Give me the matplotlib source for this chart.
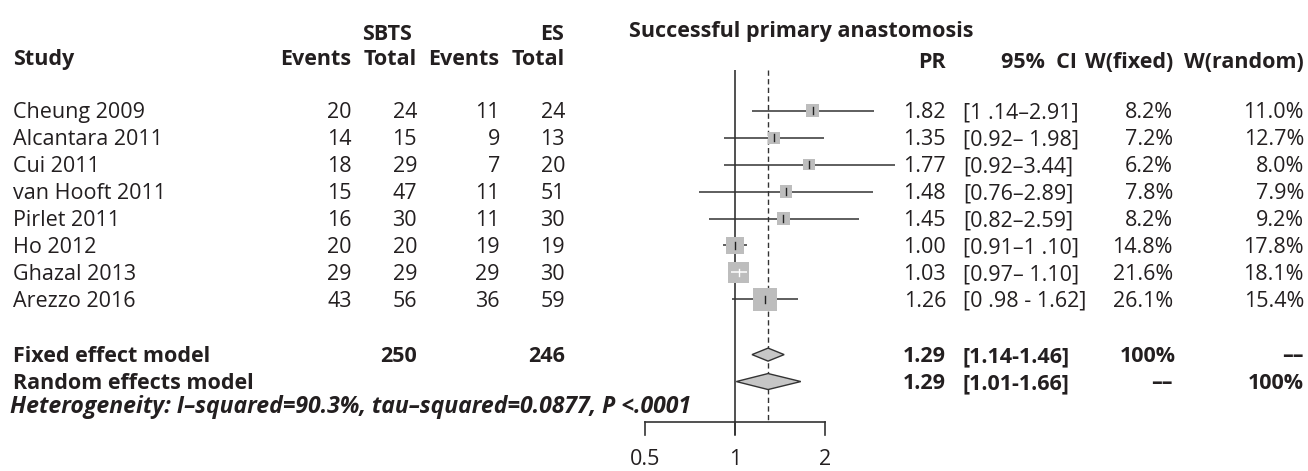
import numpy as np
import matplotlib
matplotlib.use("Agg")
import matplotlib.pyplot as plt
from matplotlib.patches import Polygon

# ---------------- data ----------------
studies = ["Cheung 2009", "Alcantara 2011", "Cui 2011", "van Hooft 2011",
           "Pirlet 2011", "Ho 2012", "Ghazal 2013", "Arezzo 2016"]
sbts_events = [20, 14, 18, 15, 16, 20, 29, 43]
sbts_total = [24, 15, 29, 47, 30, 20, 29, 56]
es_events = [11, 9, 7, 11, 11, 19, 29, 36]
es_total = [24, 13, 20, 51, 30, 19, 30, 59]
pr = [1.82, 1.35, 1.77, 1.48, 1.45, 1.00, 1.03, 1.26]
ci_low = [1.14, 0.92, 0.92, 0.76, 0.82, 0.91, 0.97, 0.98]
ci_high = [2.91, 1.98, 3.44, 2.89, 2.59, 1.10, 1.10, 1.62]
ci_labels = ["[1 .14–2.91]", "[0.92– 1.98]", "[0.92–3.44]", "[0.76–2.89]",
             "[0.82–2.59]", "[0.91–1 .10]", "[0.97– 1.10]", "[0 .98 - 1.62]"]
w_fixed = [8.2, 7.2, 6.2, 7.8, 8.2, 14.8, 21.6, 26.1]
w_random = [11.0, 12.7, 8.0, 7.9, 9.2, 17.8, 18.1, 15.4]

sbts_sum, es_sum = 250, 246
fixed_est, fixed_low, fixed_high = 1.29, 1.14, 1.46
random_est, random_low, random_high = 1.29, 1.01, 1.66
fixed_labels = ["1.29", "[1.14-1.46]", "100%", "––"]
random_labels = ["1.29", "[1.01-1.66]", "––", "100%"]
heterogeneity = "Heterogeneity: I–squared=90.3%, tau–squared=0.0877, P <.0001"
x_ticks = [0.5, 1, 2]
x_tick_labels = ["0.5", "1", "2"]
title = "Successful primary anastomosis"

# ---------------- style ----------------
plt.rcParams["font.family"] = ["Open Sans", "DejaVu Sans"]
FS = 15.5
TXT = "#231f20"
LINE = "#333333"
BOX = "#bdbdbd"
DIA = "#c6c6c6"

W, H = 1308, 471
fig = plt.figure(figsize=(W / 100, H / 100), dpi=100)
tax = fig.add_axes([0, 0, 1, 1])
tax.set_xlim(0, W)
tax.set_ylim(H, 0)
tax.axis("off")

# forest axes: log scale, 0.5 .. 2 spanning pixel 645 .. 825
fx0, fx1 = 645, 825
fax = fig.add_axes([fx0 / W, 0, (fx1 - fx0) / W, 1])
fax.set_xscale("log")
fax.set_xlim(0.5, 2)
fax.set_ylim(H, 0)
fax.axis("off")
fax.patch.set_alpha(0)

ROW0, DY = 110.7, 26.95
def row_y(i):
    return ROW0 + DY * i

CAP = 7.6  # half cap height in px for baseline placement

def txt(x, yc, s, ha="left", weight="normal", style="normal", size=FS):
    tax.text(x, yc + CAP, s, ha=ha, va="baseline", fontsize=size,
             fontweight=weight, fontstyle=style, color=TXT)

# ---------------- headers ----------------
txt(387, 32, "SBTS", ha="center", weight="bold")
txt(564, 32, "ES", ha="right", weight="bold")
txt(629, 29, title, weight="bold")
txt(13, 57, "Study", weight="bold")
txt(351, 57, "Events", ha="right", weight="bold")
txt(417, 57, "Total", ha="right", weight="bold")
txt(499, 57, "Events", ha="right", weight="bold")
txt(565, 57, "Total", ha="right", weight="bold")
txt(946, 60, "PR", ha="right", weight="bold")
txt(1077, 60, "95%  CI", ha="right", weight="bold")
txt(1173, 60, "W(fixed)", ha="right", weight="bold")
txt(1304, 60, "W(random)", ha="right", weight="bold")

# ---------------- study rows ----------------
col_x = dict(ev1=352, tot1=417, ev2=500, tot2=565, pr=946, ci=963, wf=1173, wr=1304)
for i, name in enumerate(studies):
    y = row_y(i)
    txt(13, y, name)
    txt(col_x["ev1"], y, str(sbts_events[i]), ha="right")
    txt(col_x["tot1"], y, str(sbts_total[i]), ha="right")
    txt(col_x["ev2"], y, str(es_events[i]), ha="right")
    txt(col_x["tot2"], y, str(es_total[i]), ha="right")
    txt(col_x["pr"], y, f"{pr[i]:.2f}", ha="right")
    txt(col_x["ci"], y, ci_labels[i], ha="left")
    txt(col_x["wf"], y, f"{w_fixed[i]:.1f}%", ha="right")
    txt(col_x["wr"], y, f"{w_random[i]:.1f}%", ha="right")

# summary rows
yf = row_y(9.05)
yr = row_y(10.05)
yh = row_y(10.95)
txt(13, yf, "Fixed effect model", weight="bold")
txt(col_x["tot1"], yf, str(sbts_sum), ha="right", weight="bold")
txt(col_x["tot2"], yf, str(es_sum), ha="right", weight="bold")
txt(col_x["pr"], yf, fixed_labels[0], ha="right", weight="bold")
txt(col_x["ci"] - 1, yf, fixed_labels[1], ha="left", weight="bold")
txt(col_x["wf"] + 3, yf, fixed_labels[2], ha="right", weight="bold")
txt(col_x["wr"], yf, fixed_labels[3], ha="right", weight="bold")

txt(13, yr, "Random effects model", weight="bold")
txt(col_x["pr"], yr, random_labels[0], ha="right", weight="bold")
txt(col_x["ci"] - 1, yr, random_labels[1], ha="left", weight="bold")
txt(col_x["wf"], yr, random_labels[2], ha="right", weight="bold")
txt(col_x["wr"], yr, random_labels[3], ha="right", weight="bold")

txt(10, yh, heterogeneity, weight="bold", style="italic", size=16.6)

# ---------------- forest ----------------
top_y, axis_y, tick_len = 70, 422, 13
px_per_log2 = (fx1 - fx0) / 2.0

# reference lines
fax.plot([1, 1], [top_y, axis_y + tick_len], color=LINE, lw=1.2,
         clip_on=False, zorder=1, solid_capstyle="butt")
fax.plot([fixed_est, fixed_est], [top_y, axis_y], color=LINE, lw=1.0,
         ls=(0, (3.8, 2.4)), clip_on=False, zorder=1)

for i in range(len(studies)):
    y = row_y(i)
    fax.plot([ci_low[i], ci_high[i]], [y, y], color=LINE, lw=1.1,
             clip_on=False, zorder=2, solid_capstyle="butt")
    side_px = 4.54 * np.sqrt(w_fixed[i])
    fax.scatter([pr[i]], [y], marker="s", s=(side_px * 0.72) ** 2,
                color=BOX, edgecolors="none", zorder=3, clip_on=False)
    span_px = px_per_log2 * (np.log2(ci_high[i]) - np.log2(ci_low[i]))
    inner = "white" if span_px < side_px else "#222222"
    if span_px < side_px:
        fax.plot([ci_low[i], ci_high[i]], [y, y], color="white", lw=1.1,
                 clip_on=False, zorder=4, solid_capstyle="butt")
    fax.plot([pr[i], pr[i]], [y - 3.5, y + 3.5], color=inner, lw=1.0,
             clip_on=False, zorder=4)

# diamonds
def diamond(est, lo, hi, y, h):
    pts = [(lo, y), (est, y - h / 2), (hi, y), (est, y + h / 2)]
    fax.add_patch(Polygon(pts, closed=True, facecolor=DIA, edgecolor=LINE,
                          lw=1.0, zorder=3, clip_on=False))

diamond(fixed_est, fixed_low, fixed_high, yf, 13)
diamond(random_est, random_low, random_high, yr, 16)

# axis
fax.plot([x_ticks[0], x_ticks[-1]], [axis_y, axis_y], color=LINE, lw=1.2,
         clip_on=False, zorder=2, solid_capstyle="projecting")
for xt, lab in zip(x_ticks, x_tick_labels):
    fax.plot([xt, xt], [axis_y, axis_y + tick_len], color=LINE, lw=1.2,
             clip_on=False, zorder=2)
    fax.text(xt, 457 + CAP, lab, ha="center", va="baseline", fontsize=FS,
             color=TXT)

fig.savefig("out.png", dpi=100)
